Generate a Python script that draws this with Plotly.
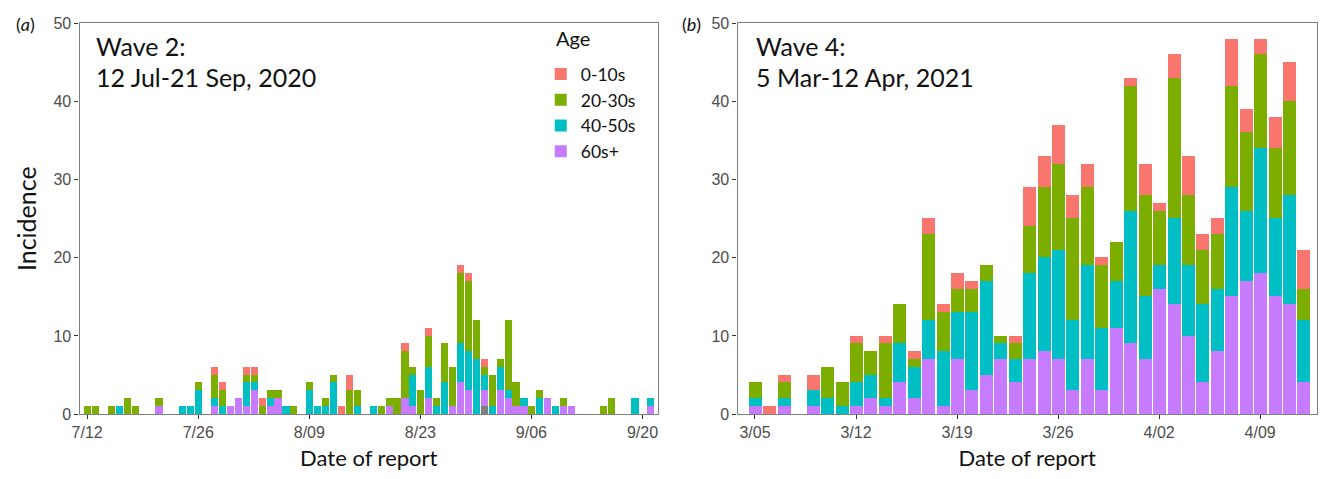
import plotly.graph_objects as go
import pandas as pd

# ---------------- data ----------------
# Wave 2: daily reports 12 Jul - 21 Sep 2020 (72 days)
wave2_dates = pd.date_range("2020-07-12", "2020-09-21", freq="D")
w2_age_0_10 = [0, 0, 0, 0, 0, 0, 0, 0, 0, 0, 0, 0, 0, 0,
               0, 0, 1, 1, 0, 0, 1, 1, 1, 0, 0, 0, 0, 0,
               0, 0, 0, 0, 1, 2, 0, 0, 0, 0, 0, 0, 1, 0,
               0, 1, 0, 0, 0, 1, 1, 0, 1, 0, 0, 0, 0, 0,
               0, 0, 0, 0, 0, 0, 0, 0, 0, 0, 0, 0, 0, 0,
               0, 0]
w2_age_20_30 = [1, 1, 0, 1, 0, 2, 1, 0, 0, 1, 0, 0, 0, 0,
                1, 0, 3, 2, 0, 0, 1, 1, 1, 1, 1, 0, 1, 0,
                1, 0, 1, 1, 0, 3, 2, 0, 0, 1, 1, 2, 6, 1,
                3, 4, 1, 5, 5, 9, 9, 5, 1, 4, 1, 9, 3, 0,
                1, 1, 0, 0, 1, 0, 0, 0, 0, 1, 2, 0, 0, 0,
                0, 0]
w2_age_40_50 = [0, 0, 0, 0, 1, 0, 0, 0, 0, 0, 0, 0, 1, 1,
                3, 0, 1, 1, 0, 0, 3, 1, 0, 1, 0, 1, 0, 0,
                3, 1, 1, 4, 0, 0, 1, 0, 1, 0, 0, 0, 0, 4,
                0, 4, 1, 4, 0, 5, 5, 7, 2, 1, 3, 1, 0, 1,
                0, 2, 0, 1, 0, 0, 0, 0, 0, 0, 0, 0, 0, 2,
                0, 1]
w2_age_60_plus = [0, 0, 0, 0, 0, 0, 0, 0, 0, 1, 0, 0, 0, 0,
                  0, 0, 1, 0, 1, 2, 1, 3, 0, 1, 2, 0, 0, 0,
                  0, 0, 0, 0, 0, 0, 0, 0, 0, 0, 1, 0, 2, 1,
                  0, 2, 0, 0, 1, 4, 3, 0, 2, 0, 3, 2, 1, 1,
                  0, 0, 2, 0, 1, 1, 0, 0, 0, 0, 0, 0, 0, 0,
                  0, 1]
w2_age_unknown = [0] * 50 + [1] + [0] * 21

# Wave 4: daily reports 5 Mar - 12 Apr 2021 (39 days)
wave4_dates = pd.date_range("2021-03-05", "2021-04-12", freq="D")
w4_age_0_10 = [0, 1, 1, 0, 2, 0, 0, 1, 0, 1, 0, 1, 2, 1, 2, 1, 0, 0, 1, 5,
               4, 5, 3, 3, 1, 0, 1, 4, 1, 3, 5, 2, 2, 6, 3, 2, 4, 5, 5]
w4_age_20_30 = [2, 0, 2, 0, 0, 4, 3, 5, 3, 7, 5, 1, 11, 5, 3, 3, 2, 1, 2, 6,
                9, 11, 13, 10, 8, 5, 16, 13, 7, 18, 9, 7, 7, 13, 10, 12, 9, 12, 4]
w4_age_40_50 = [1, 0, 1, 0, 2, 2, 1, 3, 3, 1, 5, 4, 5, 7, 6, 10, 12, 2, 3, 11,
                12, 14, 9, 12, 8, 6, 17, 8, 3, 11, 9, 10, 8, 14, 9, 16, 10, 14, 8]
w4_age_60_plus = [1, 0, 1, 0, 1, 0, 0, 1, 2, 1, 4, 2, 7, 1, 7, 3, 5, 7, 4, 7,
                  8, 7, 3, 7, 3, 11, 9, 7, 16, 14, 10, 4, 8, 15, 17, 18, 15, 14, 4]

wave2_tick_dates = ["2020-07-12", "2020-07-26", "2020-08-09", "2020-08-23", "2020-09-06", "2020-09-20"]
wave2_tick_labels = ["7/12", "7/26", "8/09", "8/23", "9/06", "9/20"]
wave4_tick_dates = ["2021-03-05", "2021-03-12", "2021-03-19", "2021-03-26", "2021-04-02", "2021-04-09"]
wave4_tick_labels = ["3/05", "3/12", "3/19", "3/26", "4/02", "4/09"]

# ---------------- style ----------------
COLORS = {"0-10s": "#F8766D", "20-30s": "#7CAE00", "40-50s": "#00BFC4",
          "60s+": "#C77CFF", "NA": "#7F7F7F"}
DAY_MS = 86400000
BAR_W = 0.9 * DAY_MS
W, H = 1320, 479
TICK_FONT = dict(family="Liberation Sans, Arial, sans-serif", size=16, color="#4D4D4D")
TEXT_FONT = "Lato, Open Sans, sans-serif"


def px_x(p):
    return p / W


def px_y(p):
    return 1 - p / H


fig = go.Figure()

wave2_series = [("NA", w2_age_unknown), ("60s+", w2_age_60_plus), ("40-50s", w2_age_40_50),
                ("20-30s", w2_age_20_30), ("0-10s", w2_age_0_10)]
for name, vals in wave2_series:
    fig.add_trace(go.Bar(x=wave2_dates, y=vals, name=name, width=BAR_W,
                         marker=dict(color=COLORS[name], line=dict(width=0)),
                         xaxis="x", yaxis="y", legendgroup=name,
                         showlegend=(name != "NA")))

wave4_series = [("60s+", w4_age_60_plus), ("40-50s", w4_age_40_50),
                ("20-30s", w4_age_20_30), ("0-10s", w4_age_0_10)]
for name, vals in wave4_series:
    fig.add_trace(go.Bar(x=wave4_dates, y=vals, name=name, width=BAR_W,
                         marker=dict(color=COLORS[name], line=dict(width=0)),
                         xaxis="x2", yaxis="y2", legendgroup=name, showlegend=False))

common_x = dict(type="date", showgrid=False, zeroline=False, showline=True, mirror=True,
                linecolor="#7F7F7F", linewidth=1.3, ticks="outside", ticklen=4,
                tickcolor="#333333", tickwidth=1.2, tickfont=TICK_FONT,
                ticklabeloverflow="allow")
common_y = dict(range=[0, 50], dtick=10, tick0=0, showgrid=False, zeroline=False,
                showline=True, mirror=True, linecolor="#7F7F7F", linewidth=1.3,
                ticks="outside", ticklen=4, tickcolor="#333333", tickwidth=1.2,
                tickfont=TICK_FONT, ticklabeloverflow="allow")

y_dom = [px_y(421), px_y(16)]

fig.update_layout(
    width=W, height=H,
    margin=dict(l=0, r=0, t=0, b=0),
    paper_bgcolor="white", plot_bgcolor="white",
    barmode="stack", bargap=0,
    xaxis=dict(**common_x, domain=[px_x(72), px_x(654)], anchor="y",
               range=["2020-07-11 01:00", "2020-09-21 23:00"],
               tickvals=wave2_tick_dates, ticktext=wave2_tick_labels,
               title=dict(text="Date of report", standoff=10,
                          font=dict(family=TEXT_FONT, size=22, color="#111111"))),
    yaxis=dict(**common_y, domain=y_dom, anchor="x",
               title=dict(text="Incidence", standoff=9,
                          font=dict(family=TEXT_FONT, size=25, color="#111111"))),
    xaxis2=dict(**common_x, domain=[px_x(734), px_x(1317)], anchor="y2",
                range=["2021-03-03 19:00", "2021-04-12 22:30"],
                tickvals=wave4_tick_dates, ticktext=wave4_tick_labels,
                title=dict(text="Date of report", standoff=10,
                           font=dict(family=TEXT_FONT, size=22, color="#111111"))),
    yaxis2=dict(**common_y, domain=y_dom, anchor="x2"),
    legend=dict(x=px_x(536), y=px_y(50), xanchor="left", yanchor="top",
                traceorder="reversed", bgcolor="rgba(0,0,0,0)",
                font=dict(family=TEXT_FONT, size=17.5, color="#111111"),
                itemwidth=30, tracegroupgap=0),
    showlegend=True,
)

annotations = [
    dict(text="(<i>a</i>)", x=px_x(7), y=px_y(17), size=18),
    dict(text="(<i>b</i>)", x=px_x(677), y=px_y(17), size=18),
    dict(text="Age", x=px_x(550), y=px_y(31), size=20),
    dict(text="Wave 2:", x=px_x(88), y=px_y(39), size=25),
    dict(text="12 Jul-21 Sep, 2020", x=px_x(88), y=px_y(72), size=25),
    dict(text="Wave 4:", x=px_x(752), y=px_y(39), size=25),
    dict(text="5 Mar-12 Apr, 2021", x=px_x(752), y=px_y(72), size=25),
]
for a in annotations:
    size = a.pop("size")
    a.update(xref="paper", yref="paper", xanchor="left", yanchor="middle",
             showarrow=False, borderpad=0,
             font=dict(family=TEXT_FONT, size=size, color="#111111"))

fig.update_layout(annotations=annotations)

# remove the page's default 8px body margin so the figure fills the window exactly
fig.write_html("out.html", config={"displayModeBar": False},
               post_script="document.body.style.margin='0';")
